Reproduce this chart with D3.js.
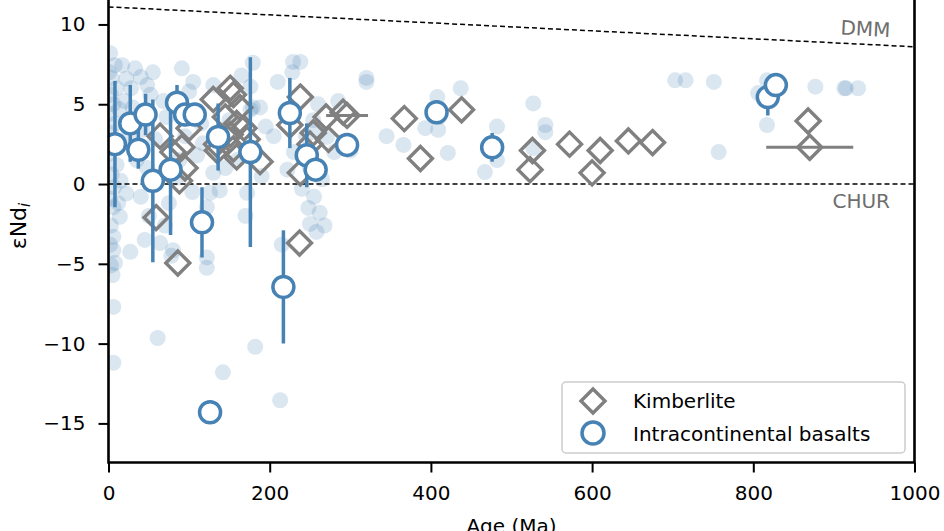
<!DOCTYPE html>
<html><head><meta charset="utf-8">
<script src="https://cdn.jsdelivr.net/npm/d3@7"></script>
<style>body{margin:0;background:#fff} text{font-family:"DejaVu Sans",sans-serif}</style>
</head><body><svg id="c" width="944" height="531"></svg>
<script>
// ---------- data ----------
const xTicks = [0, 200, 400, 600, 800, 1000];
const yTicks = [10, 5, 0, -5, -10, -15];

// background compilation (light blue dots)
const bgAge = [2,8,4,1,10,3,6,1,9,3,6,1,10,4,7,2,6,14,3,6,2,6,8,3,5,6,6,12,15,13,
  17,22,33,28,40,48,55,20,30,52,25,42,58,35,48,60,22,40,27,50,61,45,
  64,80,70,75,85,68,91,100,95,110,117,122,122,122,78,72,105,88,115,104,
  126,130,130,138,142,172,176,176,179,179,182,188,140,150,160,190,165,145,170,195,
  213,222,228,229,238,254,259,271,260,245,250,255,262,250,258,240,230,205,210,215,265,280,300,285,320,320,248,268,
  366,393,408,409,421,437,482,482,467,527,542,542,527,345,410,
  703,716,751,806,817,817,757,877,915,930,913];
const bgEnd = [8.2,7.45,6.65,7.0,6.0,5.6,5.0,4.4,3.8,3.2,2.6,1.9,1.2,0.6,-0.2,-0.9,-1.45,-2.05,-2.6,-3.3,-3.8,-4.15,-4.95,-5.1,-5.7,-7.7,-11.2,-1.2,0.2,4.7,
  7.45,6.6,7.25,6.0,6.7,6.2,7.0,5.2,4.8,5.6,3.0,3.4,2.8,1.5,1.0,0.3,-0.6,-0.8,-4.25,-2.0,-9.65,-3.5,
  -3.7,-4.15,-2.6,-1.2,0.4,5.2,7.25,5.8,3.0,1.8,2.55,-1.45,-4.6,-5.25,-4.5,4.2,6.4,1.5,3.8,-0.5,
  -0.55,6.2,0.7,-0.4,-11.8,-0.55,6.1,4.65,7.6,4.8,-10.2,4.8,3.2,4.0,1.5,0.5,6.8,1.0,-2.0,3.6,
  -13.55,0.9,7.0,7.65,7.65,4.0,3.4,2.95,5.0,3.0,1.0,-0.8,-1.8,-2.5,-3.0,-0.3,2.0,3.0,6.4,-3.8,0.3,2.0,2.1,5.2,6.4,6.65,-1.5,-2.6,
  2.45,3.5,5.45,3.4,1.95,6.0,3.6,1.5,0.75,5.05,3.7,3.25,2.25,3.0,4.2,
  6.5,6.5,6.4,5.7,6.5,3.7,2.0,6.1,6.0,6.0,6.0];

// kimberlites (grey diamonds), ageErr = horizontal error (Ma)
const kimAge = [59,86,237,64,80,91,95,88,100,130,151,163,135,155,172,168,188,145,155,159,134,151,159,
  225,238,238,250,254,270,273,291,296,367,387,438,526,523,572,600,610,645,675,868,870];
const kimEnd = [-2.1,-4.95,-3.7,3.0,2.0,2.3,1.0,0.2,3.5,5.3,6.0,4.8,2.1,2.2,2.8,3.5,1.4,4.2,5.6,3.8,2.5,3.1,1.7,
  3.7,5.45,0.7,2.5,3.2,4.2,2.8,4.5,4.3,4.1,1.6,4.65,2.1,0.9,2.5,0.7,2.1,2.7,2.6,3.95,2.3];
const kimAgeErr = [0,0,0,0,0,0,0,0,0,0,0,0,0,0,0,0,0,0,0,0,0,0,0,
  0,0,0,0,0,0,0,0,26,0,0,0,0,0,0,0,0,0,0,0,54];

// intracontinental basalts (blue open circles), endErr = vertical error
const basAge = [8,27,37,46,55,77,85,95,107,116,126,136,176,217,225,246,257,296,407,476,818,828];
const basEnd = [2.5,3.8,2.15,4.35,0.2,0.9,5.1,4.35,4.35,-2.4,-14.3,2.95,2.0,-6.45,4.45,1.8,0.9,2.45,4.5,2.3,5.45,6.2];
const basErr = [3.95,2.4,1.2,1.3,5.1,4.1,1.1,0,0,2.2,0,2.1,5.95,3.55,2.2,2.0,0,0,0,0.9,1.15,0];

// reference lines
const dmmAge = [0, 1000];
const dmmEnd = [11.1, 8.6];
const churAge = [0, 1000];
const churEnd = [0, 0];

// ---------- chart ----------
const BLUE = "#4682b4", GREY = "#808080";
const svg = d3.select("#c");
const L = 108.5, R = 914.5, T = -3, B = 462.5;
const x = d3.scaleLinear().domain([0, 1000]).range([L, R]);
const y = d3.scaleLinear().domain([-17.45, 11.72]).range([B, T]);

svg.append("defs").append("clipPath").attr("id","clip")
  .append("rect").attr("x",L).attr("y",T).attr("width",R-L).attr("height",B-T);
const plot = svg.append("g").attr("clip-path","url(#clip)");

// background dots
plot.append("g").selectAll("circle").data(bgAge.map((a,i)=>[a,bgEnd[i]])).join("circle")
  .attr("cx",d=>x(d[0])).attr("cy",d=>y(d[1])).attr("r",8)
  .attr("fill",BLUE).attr("fill-opacity",0.2);

// reference lines
const line = d3.line().x(d=>x(d[0])).y(d=>y(d[1]));
[[dmmAge,dmmEnd],[churAge,churEnd]].forEach(([ag,en]) => {
  plot.append("path").attr("d",line(ag.map((a,i)=>[a,en[i]])))
    .attr("stroke","#000").attr("stroke-width",1.5).attr("stroke-dasharray","5,3").attr("fill","none");
});

// kimberlites
const kim = kimAge.map((a,i)=>({a, e:kimEnd[i], err:kimAgeErr[i]}));
plot.append("g").selectAll("line").data(kim.filter(d=>d.err>0)).join("line")
  .attr("x1",d=>x(d.a-d.err)).attr("x2",d=>x(d.a+d.err))
  .attr("y1",d=>y(d.e)).attr("y2",d=>y(d.e))
  .attr("stroke",GREY).attr("stroke-width",3);
const dh = 12;
const diamond = `M0,${-dh}L${dh},0L0,${dh}L${-dh},0Z`;
plot.append("g").selectAll("path").data(kim).join("path")
  .attr("d",diamond).attr("transform",d=>`translate(${x(d.a)},${y(d.e)})`)
  .attr("fill","none").attr("stroke",GREY).attr("stroke-width",3.4);

// basalts
const bas = basAge.map((a,i)=>({a, e:basEnd[i], err:basErr[i]}));
plot.append("g").selectAll("line").data(bas.filter(d=>d.err>0)).join("line")
  .attr("x1",d=>x(d.a)).attr("x2",d=>x(d.a))
  .attr("y1",d=>y(d.e-d.err)).attr("y2",d=>y(d.e+d.err))
  .attr("stroke",BLUE).attr("stroke-width",3.5);
plot.append("g").selectAll("circle").data(bas).join("circle")
  .attr("cx",d=>x(d.a)).attr("cy",d=>y(d.e)).attr("r",10.5)
  .attr("fill","#fff").attr("stroke",BLUE).attr("stroke-width",3.5);

// labels for reference lines
const dmmAngle = Math.atan2(y(dmmEnd[1])-y(dmmEnd[0]), x(dmmAge[1])-x(dmmAge[0]))*180/Math.PI;
svg.append("text").attr("transform",`translate(890,37) rotate(${dmmAngle})`)
  .attr("text-anchor","end").attr("font-size",20).attr("fill","#6e6e6e").text("DMM");
svg.append("text").attr("x",890).attr("y",208)
  .attr("text-anchor","end").attr("font-size",20).attr("fill","#6e6e6e").text("CHUR");

// axes
const fmt = d => d < 0 ? "\u2212" + Math.abs(d) : String(d);
const gx = svg.append("g").attr("transform",`translate(0,${B})`)
  .call(d3.axisBottom(x).tickValues(xTicks).tickSize(10).tickPadding(13).tickFormat(fmt));
const gy = svg.append("g").attr("transform",`translate(${L},0)`)
  .call(d3.axisLeft(y).tickValues(yTicks).tickSize(10).tickPadding(13).tickFormat(fmt));
[gx, gy].forEach(g => {
  g.select(".domain").remove();
  g.selectAll(".tick line").attr("stroke","#000").attr("stroke-width",2);
  g.selectAll(".tick text").attr("font-size",20).attr("fill","#000")
    .attr("font-family","DejaVu Sans, sans-serif");
});

// spines
svg.append("path").attr("d",`M${L},${T}V${B}H${R}V${T}`)
  .attr("fill","none").attr("stroke","#000").attr("stroke-width",2.6);

// axis titles
svg.append("text").attr("x",(L+R)/2).attr("y",533).attr("text-anchor","middle")
  .attr("font-size",20).text("Age (Ma)");
const yl = svg.append("text").attr("transform","translate(26,226) rotate(-90)")
  .attr("text-anchor","middle").attr("font-size",22);
yl.append("tspan").text("\u03b5Nd");
yl.append("tspan").attr("font-style","italic").attr("font-size",15).attr("dy",4).text("i");

// legend
const lg = svg.append("g");
lg.append("rect").attr("x",562).attr("y",382).attr("width",343).attr("height",71).attr("rx",4)
  .attr("fill","#fff").attr("fill-opacity",0.8).attr("stroke","#cccccc").attr("stroke-width",1.5);
lg.append("path").attr("d",diamond).attr("transform","translate(593,401)")
  .attr("fill","none").attr("stroke",GREY).attr("stroke-width",3.4);
lg.append("circle").attr("cx",593).attr("cy",433).attr("r",11)
  .attr("fill","#fff").attr("stroke",BLUE).attr("stroke-width",3.5);
lg.append("text").attr("x",633).attr("y",408).attr("font-size",20).text("Kimberlite");
lg.append("text").attr("x",633).attr("y",441).attr("font-size",20).text("Intracontinental basalts");
</script></body></html>
